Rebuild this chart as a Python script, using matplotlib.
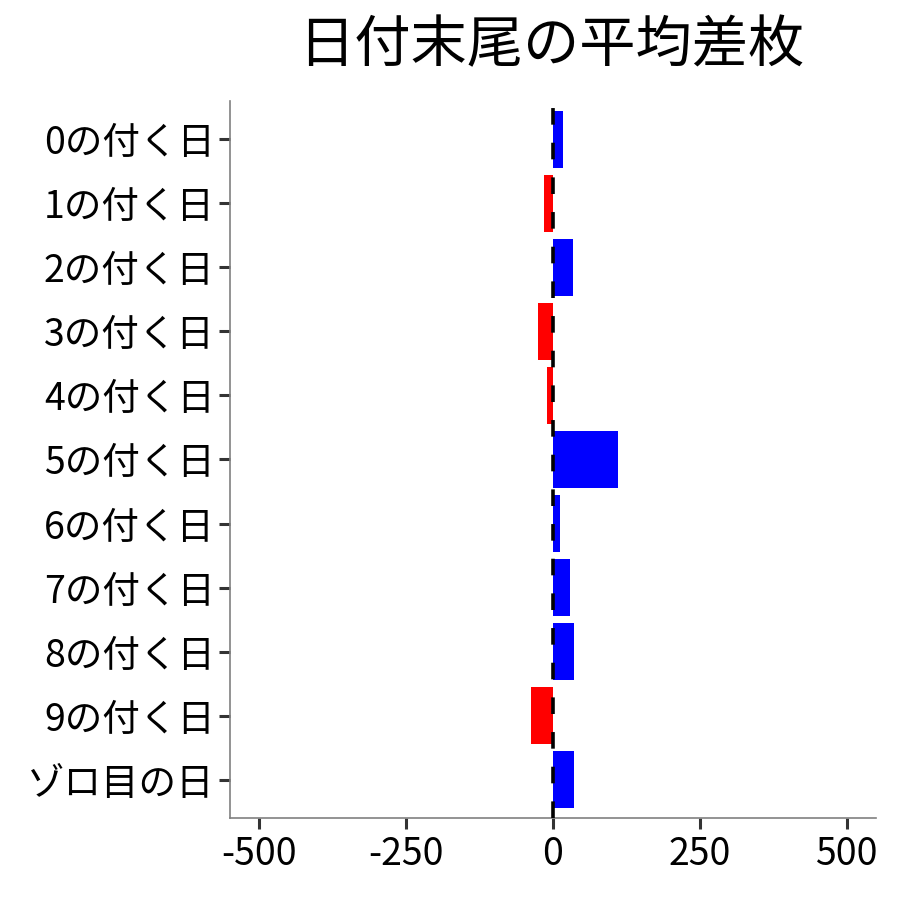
import numpy as np
import matplotlib
matplotlib.use("Agg")
import matplotlib.pyplot as plt

plt.rcParams['font.family'] = ['Noto Sans CJK JP', 'DejaVu Sans']

labels = ["0の付く日", "1の付く日", "2の付く日", "3の付く日", "4の付く日",
          "5の付く日", "6の付く日", "7の付く日", "8の付く日", "9の付く日",
          "ゾロ目の日"]
values = [17, -16, 34, -25, -10, 111, 11, 29, 36, -37, 36]
title = "日付末尾の平均差枚"
xticks = [-500, -250, 0, 250, 500]

colors = ["#0000FF" if v >= 0 else "#FF0000" for v in values]
pos = np.arange(len(labels))

fig = plt.figure(figsize=(9, 9), dpi=100)
ax = fig.add_axes([0.2556, 0.0911, 0.7178, 0.7967])

ax.barh(pos, values, height=0.9, color=colors, zorder=2)
ax.axvline(0, color="black", lw=2.6, linestyle=(0, (4.6, 5.0)), zorder=3)

ax.set_yticks(pos)
ax.set_yticklabels(labels)
ax.set_xticks(xticks)
ax.set_xticklabels([str(x) for x in xticks])
ax.set_xlim(-550, 550)
ax.set_ylim(len(labels) - 0.4, -0.6)

for s in ["top", "right"]:
    ax.spines[s].set_visible(False)
for s in ["left", "bottom"]:
    ax.spines[s].set_color("#808080")
    ax.spines[s].set_linewidth(1.2)

ax.tick_params(axis="both", length=8, width=2.2, color="#333333",
               labelsize=27, labelcolor="black")
ax.tick_params(axis="y", pad=3)
ax.tick_params(axis="x", pad=4)

fig.text(0.613, 0.948, title, ha="center", va="center", fontsize=40.5)

fig.savefig("out.png", dpi=100, facecolor="white")
